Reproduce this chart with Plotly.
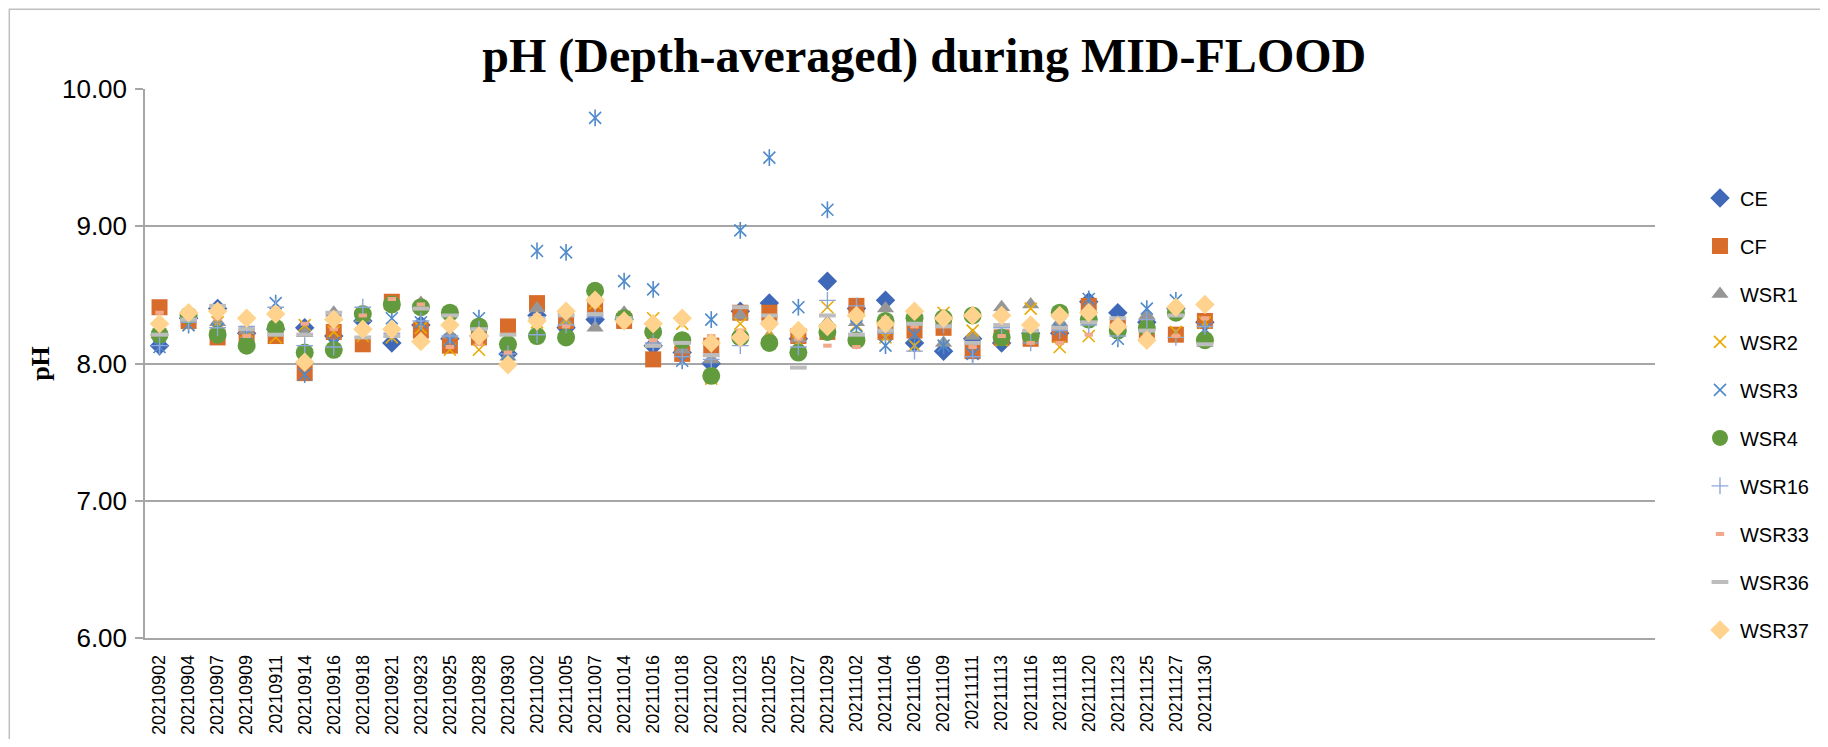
import plotly.graph_objects as go

dates = ["20210902","20210904","20210907","20210909","20210911","20210914","20210916","20210918",
         "20210921","20210923","20210925","20210928","20210930","20211002","20211005","20211007",
         "20211014","20211016","20211018","20211020","20211023","20211025","20211027","20211029",
         "20211102","20211104","20211106","20211109","20211111","20211113","20211116","20211118",
         "20211120","20211123","20211125","20211127","20211130"]

CE = [8.13, 8.33, 8.40, 8.22, 8.25, 8.26, 8.20, 8.31, 8.15, 8.28, 8.18, 8.20, 8.07, 8.35, 8.26, 8.32, 8.32, 8.13, 8.08, 8.00, 8.38, 8.44, 8.18, 8.60, 8.40, 8.46, 8.15, 8.09, 8.18, 8.15, 8.22, 8.22, 8.45, 8.37, 8.30, 8.40, 8.30]
CF = [8.41, 8.31, 8.19, 8.19, 8.20, 7.93, 8.23, 8.14, 8.45, 8.24, 8.13, 8.19, 8.27, 8.44, 8.31, 8.42, 8.31, 8.03, 8.07, 8.13, 8.37, 8.37, 8.20, 8.23, 8.42, 8.23, 8.24, 8.26, 8.09, 8.19, 8.18, 8.21, 8.42, 8.27, 8.22, 8.21, 8.31]
WSR1 = [8.24, 8.35, 8.30, 8.24, 8.28, 8.22, 8.37, 8.33, 8.22, 8.44, 8.21, 8.22, 8.05, 8.40, 8.30, 8.26, 8.37, 8.14, 8.10, 8.03, 8.35, 8.20, 8.18, 8.30, 8.30, 8.40, 8.30, 8.15, 8.20, 8.41, 8.43, 8.30, 8.40, 8.30, 8.35, 8.38, 8.15]
WSR2 = [8.25, 8.28, 8.30, 8.23, 8.19, 8.28, 8.23, 8.20, 8.19, 8.26, 8.10, 8.10, 8.06, 8.30, 8.32, 8.44, 8.34, 8.33, 8.29, 7.89, 8.29, 8.23, 8.16, 8.41, 8.28, 8.19, 8.13, 8.37, 8.24, 8.17, 8.40, 8.12, 8.20, 8.25, 8.28, 8.23, 8.30]
WSR3 = [8.12, 8.28, 8.25, 8.22, 8.44, 7.92, 8.15, 8.30, 8.33, 8.30, 8.17, 8.33, 8.07, 8.82, 8.81, 9.79, 8.60, 8.54, 8.02, 8.32, 8.97, 9.50, 8.41, 9.12, 8.27, 8.13, 8.21, 8.13, 8.07, 8.20, 8.20, 8.25, 8.47, 8.18, 8.40, 8.46, 8.25]
WSR4 = [8.21, 8.35, 8.21, 8.13, 8.26, 8.08, 8.10, 8.36, 8.43, 8.41, 8.37, 8.27, 8.14, 8.20, 8.19, 8.53, 8.33, 8.23, 8.17, 7.91, 8.19, 8.15, 8.08, 8.23, 8.17, 8.31, 8.33, 8.33, 8.35, 8.19, 8.20, 8.37, 8.32, 8.24, 8.26, 8.37, 8.17]
WSR16 = [8.13, 8.30, 8.26, 8.27, 8.41, 8.13, 8.12, 8.41, 8.22, 8.31, 8.20, 8.25, 8.07, 8.21, 8.28, 8.34, 8.32, 8.15, 8.05, 8.03, 8.13, 8.30, 8.12, 8.46, 8.42, 8.22, 8.09, 8.28, 8.05, 8.26, 8.15, 8.24, 8.28, 8.20, 8.32, 8.19, 8.27]
WSR33 = [8.37, 8.33, 8.33, 8.20, 8.40, 8.29, 8.25, 8.35, 8.47, 8.43, 8.12, 8.14, 8.08, 8.35, 8.27, 8.49, 8.33, 8.17, 8.33, 8.20, 8.24, 8.33, 8.18, 8.13, 8.12, 8.33, 8.27, 8.28, 8.12, 8.20, 8.15, 8.15, 8.21, 8.24, 8.22, 8.20, 8.33]
WSR36 = [8.21, 8.32, 8.42, 8.25, 8.21, 8.21, 8.37, 8.19, 8.20, 8.40, 8.35, 8.25, 8.21, 8.33, 8.35, 8.36, 8.33, 8.13, 8.15, 8.06, 8.41, 8.35, 7.97, 8.35, 8.21, 8.24, 8.29, 8.27, 8.15, 8.28, 8.24, 8.26, 8.30, 8.33, 8.24, 8.35, 8.14]
WSR37 = [8.29, 8.37, 8.38, 8.33, 8.36, 8.01, 8.32, 8.25, 8.25, 8.16, 8.28, 8.20, 7.99, 8.31, 8.38, 8.46, 8.31, 8.29, 8.33, 8.15, 8.19, 8.29, 8.24, 8.27, 8.35, 8.29, 8.38, 8.33, 8.35, 8.35, 8.28, 8.35, 8.37, 8.27, 8.17, 8.41, 8.43]

yticks = [6, 7, 8, 9, 10]

series = [
    ("CE", CE, "diamond", 15, "#3F68B8", 0),
    ("CF", CF, "square", 16, "#D86D2B", 0),
    ("WSR1", WSR1, "triangle-up", 15, "#969696", 0),
    ("WSR2", WSR2, "x-thin-open", 12, "#EAAA00", 1.6),
    ("WSR3", WSR3, "x-thin-open", 12, "#4F8ACB", 1.6),
    ("WSR4", WSR4, "circle", 18, "#629B3E", 0),
    ("WSR16", WSR16, "cross-thin-open", 12, "#8EA7D9", 1.4),
    ("WSR33", WSR33, "line-ew-open", 6, "#F2A88A", 4),
    ("WSR36", WSR36, "line-ew-open", 12, "#BDBDBD", 4),
    ("WSR37", WSR37, "diamond", 15, "#FFD38D", 0),
]

fig = go.Figure()
for name, vals, sym, size, col, lw in series:
    marker = dict(symbol=sym, size=size, color=col)
    if lw:
        marker["line"] = dict(color=col, width=lw)
    else:
        marker["line"] = dict(width=0)
    fig.add_trace(go.Scatter(x=dates, y=vals, mode="markers", name=name,
                             legendgroup=name, marker=marker))
    if name == "WSR3":
        fig.add_trace(go.Scatter(x=dates, y=vals, mode="markers", name=name,
                                 legendgroup=name, showlegend=False,
                                 marker=dict(symbol="line-ns-open", size=12,
                                             color=col, line=dict(color=col, width=1.6))))

# page body has an 8px margin, so figure coords = screen coords - 8
W, H = 1812, 731
L, T = 136.5, 80.6
PW = 1510.5
PH = 549.1
R = W - L - PW
B = H - T - PH

fig.update_layout(
    width=W, height=H,
    margin=dict(l=L, r=R, t=T, b=B, pad=0, autoexpand=False),
    paper_bgcolor="white", plot_bgcolor="white",
    title=dict(text="<b>pH (Depth-averaged) during MID-FLOOD</b>",
               font=dict(family="Liberation Serif", size=48, color="black"),
               x=(916 - L) / PW, xref="paper", xanchor="center",
               y=1 - 47 / H, yanchor="middle"),
    xaxis=dict(type="category", categoryorder="array", categoryarray=dates,
               range=[-0.5, 51.5], showgrid=False, showline=True,
               linecolor="#A6A6A6", linewidth=1.5, ticks="",
               tickangle=-90, tickfont=dict(family="Liberation Sans", size=18, color="black"),
               ticklabelstandoff=8, zeroline=False, automargin=False),
    yaxis=dict(range=[6, 10], tickvals=yticks, tickformat=".2f",
               showgrid=True, gridcolor="#A6A6A6", gridwidth=1.5,
               showline=True, linecolor="#A6A6A6", linewidth=1.5,
               ticks="outside", ticklen=8, tickcolor="#A6A6A6", tickwidth=1.5,
               tickfont=dict(family="Liberation Sans", size=26, color="black"),
               ticklabelstandoff=3, zeroline=False, automargin=False,
               title=dict(text="<b>pH</b>", font=dict(family="Liberation Serif", size=26, color="black"),
                          standoff=5)),
    legend=dict(x=(1692 - L) / PW, xanchor="left", y=(H - B - 170) / PH, yanchor="top",
                font=dict(family="Liberation Sans", size=20, color="black"),
                tracegroupgap=19, bgcolor="rgba(0,0,0,0)"),
    showlegend=True,
)

fig.add_shape(type="rect", xref="paper", yref="paper",
              x0=(0.75 - L) / PW, x1=(W + 20 - L) / PW,
              y0=(T + PH - (H + 20)) / PH, y1=(T + PH - 0.75) / PH,
              line=dict(color="#BFBFBF", width=1.5), fillcolor="rgba(0,0,0,0)", layer="below")

fig.write_html("out.html")
